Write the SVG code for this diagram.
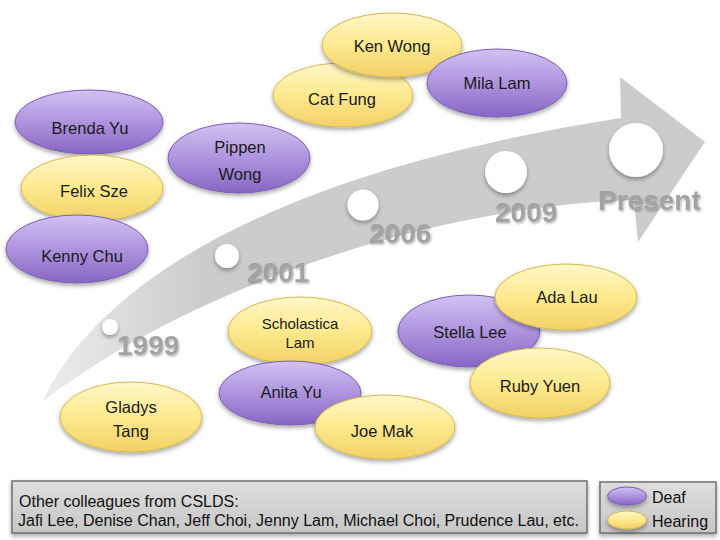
<svg xmlns="http://www.w3.org/2000/svg" width="720" height="540" viewBox="0 0 720 540">
<defs>
<linearGradient id="gp" x1="0" y1="0" x2="0" y2="1">
<stop offset="0" stop-color="#d3c1f2"/><stop offset="0.5" stop-color="#ae94de"/><stop offset="1" stop-color="#8766c4"/>
</linearGradient>
<linearGradient id="gy" x1="0" y1="0" x2="0" y2="1">
<stop offset="0" stop-color="#fff8c8"/><stop offset="0.5" stop-color="#fde98e"/><stop offset="1" stop-color="#f2d166"/>
</linearGradient>
<linearGradient id="ga" gradientUnits="userSpaceOnUse" x1="30" y1="0" x2="200" y2="0">
<stop offset="0" stop-color="#cccccc" stop-opacity="0.3"/><stop offset="1" stop-color="#cccccc"/>
</linearGradient>
<linearGradient id="gb" x1="0" y1="0" x2="0" y2="1">
<stop offset="0" stop-color="#dedede"/><stop offset="1" stop-color="#c6c6c6"/>
</linearGradient>
<filter id="sh" x="-20%" y="-20%" width="140%" height="150%">
<feDropShadow dx="0" dy="2.5" stdDeviation="2" flood-color="#000" flood-opacity="0.35"/>
</filter>
<filter id="tsh" x="-10%" y="-20%" width="130%" height="150%">
<feDropShadow dx="1" dy="1.5" stdDeviation="1" flood-color="#000" flood-opacity="0.3"/>
</filter>
<style>
.p{fill:url(#gp);stroke:#7b60b4;stroke-width:1;filter:url(#sh)}
.y{fill:url(#gy);stroke:#d8b94e;stroke-width:1;filter:url(#sh)}
.t{font-family:"Liberation Sans",Arial,sans-serif;font-size:16.5px;fill:#1a1a1a;text-anchor:middle}
.yr{font-family:"Liberation Sans",Arial,sans-serif;font-size:28px;font-weight:bold;fill:#a3a3a3;filter:url(#tsh)}
.dot{fill:#ffffff;filter:url(#sh)}
.box{fill:url(#gb);stroke:#6f6f6f;stroke-width:1.5;filter:url(#sh)}
.bt{font-family:"Liberation Sans",Arial,sans-serif;font-size:16px;fill:#111}
</style>
</defs>
<rect width="720" height="540" fill="#ffffff"/>
<g id="timeline">
<path d="M42,402 C110,260 320,165 621,118 L620,77 L705,142 L638,242 L634,200 C450,205 200,280 42,402 Z" fill="url(#ga)"/>
<circle class="dot" cx="110" cy="327" r="8"/>
<circle class="dot" cx="227" cy="256" r="12"/>
<circle class="dot" cx="363" cy="205" r="15.5"/>
<circle class="dot" cx="506" cy="172" r="21"/>
<circle class="dot" cx="636" cy="150" r="27"/>
<text class="yr" x="117" y="355">1999</text>
<text class="yr" x="247" y="282">2001</text>
<text class="yr" x="369" y="243">2006</text>
<text class="yr" x="495" y="222">2009</text>
<text class="yr" x="598" y="210">Present</text>
</g>
<g id="connectors"></g>
<g id="brenda"><ellipse class="p" cx="89" cy="122" rx="74" ry="32"/><text class="t" x="90" y="134">Brenda Yu</text></g>
<g id="felix"><ellipse class="y" cx="92" cy="188" rx="71" ry="33"/><text class="t" x="94" y="197">Felix Sze</text></g>
<g id="kenny"><ellipse class="p" cx="77" cy="249" rx="71" ry="34"/><text class="t" x="82" y="262">Kenny Chu</text></g>
<g id="pippen"><ellipse class="p" cx="239" cy="158" rx="71" ry="35"/><text class="t" x="240" y="153">Pippen</text><text class="t" x="240" y="180">Wong</text></g>
<g id="catfung"><ellipse class="y" cx="343" cy="95" rx="70" ry="32"/><text class="t" x="342" y="105">Cat Fung</text></g>
<g id="kenwong"><ellipse class="y" cx="392" cy="45" rx="70" ry="32"/><text class="t" x="392" y="52">Ken Wong</text></g>
<g id="mila"><ellipse class="p" cx="497" cy="83" rx="70" ry="34"/><text class="t" x="497" y="89">Mila Lam</text></g>
<g id="scholastica"><ellipse class="y" cx="300" cy="331" rx="72" ry="34"/><text class="t" x="300" y="329" style="font-size:15px">Scholastica</text><text class="t" x="300" y="348" style="font-size:15px">Lam</text></g>
<g id="anita"><ellipse class="p" cx="290" cy="393" rx="71" ry="32"/><text class="t" x="291" y="398">Anita Yu</text></g>
<g id="joemak"><ellipse class="y" cx="385" cy="427" rx="70" ry="32"/><text class="t" x="382" y="437">Joe Mak</text></g>
<g id="gladys"><ellipse class="y" cx="131" cy="417" rx="71" ry="35"/><text class="t" x="131" y="413">Gladys</text><text class="t" x="131" y="437">Tang</text></g>
<g id="stella"><ellipse class="p" cx="469" cy="331" rx="71" ry="36"/><text class="t" x="470" y="338">Stella Lee</text></g>
<g id="ada"><ellipse class="y" cx="566" cy="297" rx="71" ry="33"/><text class="t" x="567" y="303">Ada Lau</text></g>
<g id="ruby"><ellipse class="y" cx="540" cy="383" rx="70" ry="35"/><text class="t" x="540" y="392">Ruby Yuen</text></g>
<g id="others">
<rect class="box" x="12" y="481" width="575" height="52"/>
<text class="bt" x="19" y="507">Other colleagues from CSLDS:</text>
<text class="bt" x="18" y="526">Jafi Lee, Denise Chan, Jeff Choi, Jenny Lam, Michael Choi, Prudence Lau, etc.</text>
</g>
<g id="legend">
<rect class="box" x="600" y="482" width="116" height="51"/>
<ellipse class="p" cx="627" cy="496" rx="19.5" ry="9"/>
<ellipse class="y" cx="627" cy="520" rx="19.5" ry="9"/>
<text class="bt" x="652" y="503">Deaf</text>
<text class="bt" x="652" y="527">Hearing</text>
</g>
</svg>
